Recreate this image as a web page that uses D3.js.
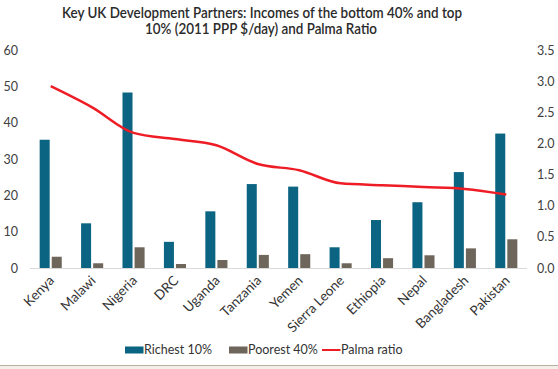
<!DOCTYPE html>
<html>
<head>
<meta charset="utf-8">
<script src="https://cdn.jsdelivr.net/npm/d3@7"></script>
<style>
  body { margin: 0; background: #fff; }
  svg { display: block; font-family: Lato, "Open Sans", sans-serif; }
</style>
</head>
<body>
<svg id="chart" width="558" height="369"></svg>
<script>
const countries = ['Kenya', 'Malawi', 'Nigeria', 'DRC', 'Uganda', 'Tanzania',
  'Yemen', 'Sierra Leone', 'Ethiopia', 'Nepal', 'Bangladesh', 'Pakistan'];
const richest10 = [35.3, 12.3, 48.3, 7.2, 15.6, 23.1, 22.4, 5.7, 13.2, 18.1, 26.4, 37.0];
const poorest40 = [3.1, 1.3, 5.7, 1.1, 2.2, 3.6, 3.8, 1.3, 2.7, 3.5, 5.4, 7.9];
const palma = [2.92, 2.58, 2.17, 2.07, 1.97, 1.67, 1.57, 1.36, 1.33, 1.30, 1.27, 1.18];
const leftTicks = [0, 10, 20, 30, 40, 50, 60];
const rightTicks = [0, 0.5, 1, 1.5, 2, 2.5, 3, 3.5];

const svg = d3.select('#chart');
const W = 558, H = 369;
const plot = { left: 30, right: 527, top: 50, bottom: 268 };

// scales
const x = d3.scaleBand().domain(countries).range([plot.left, plot.right]);
const x1 = d3.scaleBand().domain(['rich', 'poor'])
  .range([0, x.bandwidth()]).paddingInner(0.17).paddingOuter(0.8);
const yL = d3.scaleLinear().domain([0, 60]).range([plot.bottom, plot.top]);
const yR = d3.scaleLinear().domain([0, 3.5]).range([plot.bottom, plot.top]);

// bottom strip
svg.append('rect').attr('x', 0).attr('y', 365).attr('width', W).attr('height', H - 365)
  .attr('fill', '#f3f0ea');
svg.append('line').attr('x1', 0).attr('x2', W).attr('y1', 365.5).attr('y2', 365.5)
  .attr('stroke', '#b8af9f').attr('stroke-width', 1);

// title, squeezed to the width it has in the original
svg.append('text').attr('x', 262).attr('y', 17.5)
  .attr('text-anchor', 'middle').attr('font-size', 14.5).attr('font-weight', 600)
  .attr('fill', '#2a2a2a')
  .attr('textLength', 400).attr('lengthAdjust', 'spacingAndGlyphs')
  .text('Key UK Development Partners: Incomes of the bottom 40% and top');
svg.append('text').attr('x', 261).attr('y', 33.5)
  .attr('text-anchor', 'middle').attr('font-size', 14.5).attr('font-weight', 600)
  .attr('fill', '#2a2a2a')
  .attr('textLength', 232).attr('lengthAdjust', 'spacingAndGlyphs')
  .text('10% (2011 PPP $/day) and Palma Ratio');

// left axis
const axL = svg.append('g').attr('transform', 'translate(18,0)')
  .call(d3.axisLeft(yL).tickValues(leftTicks).tickSize(0).tickPadding(0));
axL.select('.domain').remove();
axL.selectAll('text').attr('font-family', 'Lato, sans-serif').attr('font-size', 12.5)
  .attr('fill', '#404040');

// right axis
const axR = svg.append('g').attr('transform', 'translate(537,0)')
  .call(d3.axisRight(yR).tickValues(rightTicks).tickSize(0).tickPadding(0)
    .tickFormat(d3.format('.1f')));
axR.select('.domain').remove();
axR.selectAll('text').attr('font-family', 'Lato, sans-serif').attr('font-size', 12.5)
  .attr('fill', '#404040');

// baseline
svg.append('line').attr('x1', plot.left).attr('x2', plot.right)
  .attr('y1', plot.bottom + 0.5).attr('y2', plot.bottom + 0.5)
  .attr('stroke', '#d9d9d9');

// bars
const groups = svg.append('g').selectAll('g').data(countries).enter().append('g')
  .attr('transform', d => `translate(${x(d)},0)`);
groups.append('rect')
  .attr('x', x1('rich')).attr('width', x1.bandwidth())
  .attr('y', (d, i) => yL(richest10[i])).attr('height', (d, i) => yL(0) - yL(richest10[i]))
  .attr('fill', '#0b6481');
groups.append('rect')
  .attr('x', x1('poor')).attr('width', x1.bandwidth())
  .attr('y', (d, i) => yL(poorest40[i])).attr('height', (d, i) => yL(0) - yL(poorest40[i]))
  .attr('fill', '#6e655b');

// palma line
const line = d3.line()
  .x((d, i) => x(countries[i]) + x.bandwidth() / 2)
  .y(d => yR(d))
  .curve(d3.curveMonotoneX);
svg.append('path').datum(palma).attr('d', line)
  .attr('fill', 'none').attr('stroke', '#ee1c25').attr('stroke-width', 2.5);

// x labels
svg.append('g').selectAll('text').data(countries).enter().append('text')
  .attr('transform', d => `translate(${x(d) + x.bandwidth() / 2 + 1},278) rotate(-45)`)
  .attr('text-anchor', 'end').attr('dy', '0.35em')
  .attr('font-size', 13.5).attr('fill', '#333')
  .text(d => d);

// legend
const legend = [
  { label: 'Richest 10%', color: '#0b6481', type: 'rect', x: 125 },
  { label: 'Poorest 40%', color: '#6e655b', type: 'rect', x: 229 },
  { label: 'Palma ratio', color: '#ee1c25', type: 'line', x: 322 }
];
const lg = svg.append('g').selectAll('g').data(legend).enter().append('g')
  .attr('transform', d => `translate(${d.x},350)`);
lg.filter(d => d.type === 'rect').append('rect')
  .attr('x', 0).attr('y', -3.5).attr('width', 18.5).attr('height', 7)
  .attr('fill', d => d.color);
lg.filter(d => d.type === 'line').append('line')
  .attr('x1', 0).attr('x2', 18.5).attr('y1', 0).attr('y2', 0)
  .attr('stroke', d => d.color).attr('stroke-width', 2);
lg.append('text').attr('x', 19).attr('y', 0).attr('dy', '0.35em')
  .attr('font-size', 12.5).attr('fill', '#333').text(d => d.label);
</script>
</body>
</html>
